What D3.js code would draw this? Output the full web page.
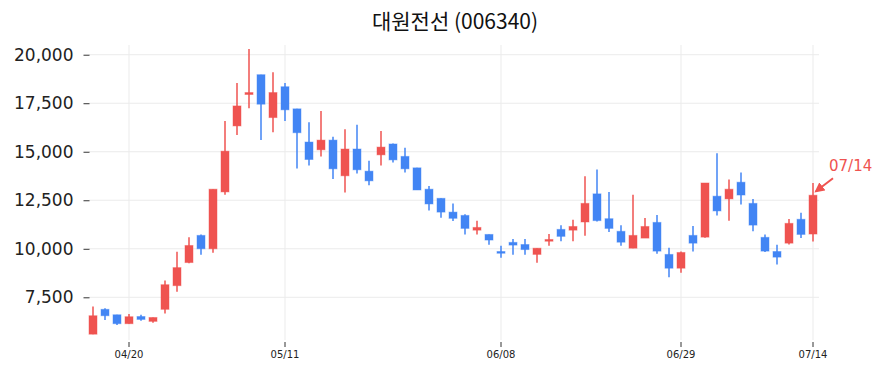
<!DOCTYPE html>
<html>
<head>
<meta charset="utf-8">
<script src="https://cdn.jsdelivr.net/npm/d3@7"></script>
<style>
  body { margin: 0; background: #fff; }
  svg { display: block; }
</style>
</head>
<body>
<svg width="883" height="373"></svg>
<script>
// daily candles, 2023-04-17 .. 2023-07-14
var dates = ["04/17","04/18","04/19","04/20","04/21","04/24","04/25","04/26","04/27","04/28",
             "05/02","05/03","05/04","05/08","05/09","05/10","05/11","05/12","05/15","05/16",
             "05/17","05/18","05/19","05/22","05/23","05/24","05/25","05/26","05/30","05/31",
             "06/01","06/02","06/05","06/07","06/08","06/09","06/12","06/13","06/14","06/15",
             "06/16","06/19","06/20","06/21","06/22","06/23","06/26","06/27","06/28","06/29",
             "06/30","07/03","07/04","07/05","07/06","07/07","07/10","07/11","07/12","07/13",
             "07/14"];
var opens  = [5600,6880,6600,6140,6510,6260,6880,8100,9290,10690,
              10000,12930,16330,17950,18970,16760,18350,17210,15500,15100,
              15600,13760,15140,14000,14840,15400,14760,14170,13070,12600,
              11890,11720,10960,10740,9860,10330,10220,9710,10390,11000,
              10960,11380,12830,11550,10900,10030,10550,11360,9710,9000,
              10690,10600,12710,12570,13430,12340,10590,9860,10290,11520,
              10760];
var highs  = [7030,6930,6600,6640,6600,6460,8360,9850,10600,10740,
              13070,16590,18540,20300,18970,19100,18540,17210,16520,17100,
              15770,16160,16390,14530,16070,15430,15210,14170,13240,12600,
              12330,11780,11450,10740,10160,10500,10500,10030,10760,11210,
              11500,13740,14090,12930,11210,12790,11580,11740,10050,9860,
              11170,13390,14920,13570,13930,12570,10740,10210,11530,11860,
              13390];
var lows   = [5600,6330,6070,6140,6290,6190,6670,7780,9260,9690,
              9790,12790,15860,17240,15600,16000,16590,14140,14290,14760,
              13590,12900,13880,13280,14290,14450,13930,13030,11970,11600,
              11430,10730,10730,10210,9540,9690,9690,9280,10160,10390,
              10390,10670,11410,10860,10160,10030,10550,9740,8530,8760,
              9860,10570,11710,11450,12280,10900,9840,9190,10220,10550,
              10380];
var closes = [6550,6550,6140,6500,6360,6460,8150,9030,10170,10000,
              13070,15030,17360,18050,17450,18050,17160,15980,14600,15600,
              14120,15140,14070,13500,15240,14580,14120,13030,12310,11890,
              11570,11050,11100,10450,9770,10190,9960,10030,10480,10640,
              11150,12340,11450,11050,10340,10690,11150,9880,9000,9810,
              10290,13390,11950,13070,12770,11220,9880,9570,11310,10740,
              12760];
var xTicks = ["04/20","05/11","06/08","06/29","07/14"];
var yTicks = [7500,10000,12500,15000,17500,20000];
var title = "대원전선 (006340)";
var lastLabel = "07/14";

var upColor = "#ef5350", downColor = "#4285f4";
var plot = {left: 87, right: 819, top: 45, bottom: 340};

var candles = dates.map(function (d, i) {
  return {date: d, o: opens[i], h: highs[i], l: lows[i], c: closes[i]};
});

var svg = d3.select("svg");

var x = d3.scaleBand()
          .domain(dates)
          .range([plot.left, plot.right]);
var y = d3.scaleLinear()
          .domain([5300, 20500])
          .range([plot.bottom, plot.top]);
var cx = function (d) { return x(d) + x.bandwidth() / 2; };

// grid
svg.append("g")
   .selectAll("line")
   .data(yTicks)
   .enter().append("line")
   .attr("x1", plot.left + 2).attr("x2", plot.right)
   .attr("y1", d => y(d)).attr("y2", d => y(d))
   .attr("stroke", "#ebebeb").attr("stroke-width", 1);
svg.append("g")
   .selectAll("line")
   .data(xTicks)
   .enter().append("line")
   .attr("x1", d => cx(d)).attr("x2", d => cx(d))
   .attr("y1", plot.top).attr("y2", plot.bottom)
   .attr("stroke", "#ebebeb").attr("stroke-width", 1);

// y axis
var yAxis = svg.append("g")
               .attr("transform", "translate(" + (plot.left + 2.5) + ",0)")
               .call(d3.axisLeft(y).tickValues(yTicks).tickFormat(d3.format(",")).tickSize(6).tickPadding(10));
yAxis.select(".domain").remove();
yAxis.selectAll("line").attr("stroke", "#333");
yAxis.selectAll("text")
     .style("font-family", "DejaVu Sans")
     .style("font-size", "17px")
     .attr("fill", "#222");

// x axis
var xAxis = svg.append("g")
               .attr("transform", "translate(0," + (plot.bottom + 2) + ")")
               .call(d3.axisBottom(x).tickValues(xTicks).tickSize(5).tickPadding(4));
xAxis.select(".domain").remove();
xAxis.selectAll("line").attr("stroke", "#333");
xAxis.selectAll("text")
     .style("font-family", "DejaVu Sans")
     .style("font-size", "10px")
     .attr("fill", "#222");

// candles
var g = svg.append("g");
g.selectAll("line.wick")
 .data(candles)
 .enter().append("line")
 .attr("class", "wick")
 .attr("x1", d => cx(d.date)).attr("x2", d => cx(d.date))
 .attr("y1", d => y(d.h)).attr("y2", d => y(d.l))
 .attr("stroke", d => d.c >= d.o ? upColor : downColor)
 .attr("stroke-width", 1.5);
g.selectAll("rect.body")
 .data(candles)
 .enter().append("rect")
 .attr("class", "body")
 .attr("x", d => cx(d.date) - 4)
 .attr("width", 8)
 .attr("y", d => y(Math.max(d.o, d.c)))
 .attr("height", d => Math.max(1.5, Math.abs(y(d.o) - y(d.c))))
 .attr("fill", d => d.c >= d.o ? upColor : downColor)
 .attr("stroke", d => d.c >= d.o ? upColor : downColor)
 .attr("stroke-opacity", 0.45)
 .attr("stroke-width", 1);

// title
svg.append("text")
   .attr("x", (plot.left + plot.right) / 2 + 2)
   .attr("y", 29)
   .attr("text-anchor", "middle")
   .style("font-family", "Noto Sans CJK KR")
   .style("font-size", "21px")
   .attr("fill", "#111")
   .text(title);

// last-day annotation
var last = candles[candles.length - 1];
var tipX = cx(last.date) + 3, tipY = y(last.c) - 4;
svg.append("defs").append("marker")
   .attr("id", "arrow")
   .attr("viewBox", "0 0 10 10")
   .attr("refX", 8).attr("refY", 5)
   .attr("markerWidth", 5).attr("markerHeight", 5)
   .attr("orient", "auto")
   .append("path")
   .attr("d", "M0,0 L10,5 L0,10 z")
   .attr("fill", upColor);
svg.append("line")
   .attr("x1", tipX + 17).attr("y1", tipY - 13)
   .attr("x2", tipX).attr("y2", tipY)
   .attr("stroke", upColor)
   .attr("stroke-width", 2)
   .attr("marker-end", "url(#arrow)");
svg.append("text")
   .attr("x", tipX + 13)
   .attr("y", tipY - 20)
   .style("font-family", "DejaVu Sans")
   .style("font-size", "15px")
   .attr("fill", upColor)
   .text(lastLabel);
</script>
</body>
</html>
